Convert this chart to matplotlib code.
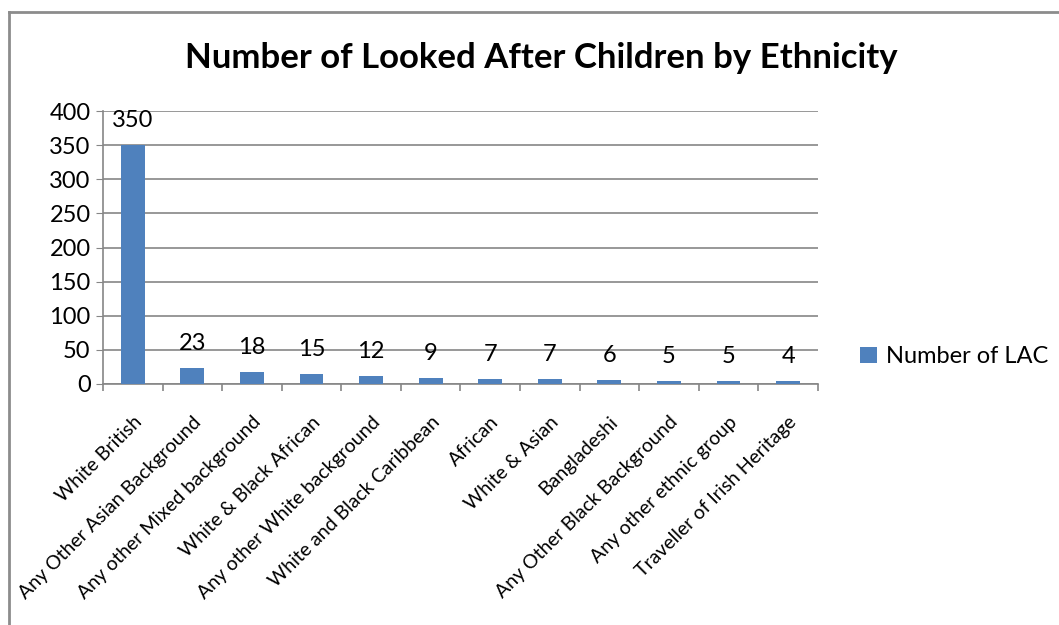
import numpy as np
import matplotlib
matplotlib.use('Agg')
import matplotlib.pyplot as plt
from matplotlib.lines import Line2D

plt.rcParams['font.family'] = ['Lato', 'DejaVu Sans']

categories = ['White British', 'Any Other Asian Background', 'Any other Mixed background',
              'White & Black African', 'Any other White background', 'White and Black Caribbean',
              'African', 'White & Asian', 'Bangladeshi', 'Any Other Black Background',
              'Any other ethnic group', 'Traveller of Irish Heritage']
counts = [350, 23, 18, 15, 12, 9, 7, 7, 6, 5, 5, 4]

bar_color = '#4F81BD'
grid_color = '#868686'

fig = plt.figure(figsize=(10.59, 6.25), dpi=100)
ax = fig.add_axes([0.0973, 0.3856, 0.675, 0.4368])

x = np.arange(len(categories))
bars = ax.bar(x, counts, 0.4, color=bar_color, label='Number of LAC', zorder=3)

ax.set_xlim(-0.5, len(categories) - 0.5)
ax.set_ylim(0, 400)
ax.set_yticks(np.arange(0, 401, 50))
ax.tick_params(axis='y', labelsize=17, length=5, color=grid_color, pad=4)
ax.yaxis.grid(True, color=grid_color, lw=1.2, zorder=0)

# tick marks between categories, labels at the centres
ax.set_xticks(np.arange(len(categories) + 1) - 0.5)
ax.set_xticklabels([])
ax.tick_params(axis='x', which='major', length=5, color=grid_color, width=1.2)
ax.set_xticks(x, minor=True)
ax.set_xticklabels(categories, minor=True, rotation=45, ha='right',
                   rotation_mode='anchor', fontsize=14)
ax.tick_params(axis='x', which='minor', length=0, pad=21)

for s in ['top', 'right']:
    ax.spines[s].set_visible(False)
for s in ['left', 'bottom']:
    ax.spines[s].set_color(grid_color)
    ax.spines[s].set_linewidth(1.2)

for rect, v in zip(bars, counts):
    ax.annotate('{}'.format(v),
                xy=(rect.get_x() + rect.get_width() / 2, rect.get_height()),
                xytext=(0, 10), textcoords='offset points',
                ha='center', va='bottom', fontsize=17)

fig.text(0.511, 0.907, 'Number of Looked After Children by Ethnicity',
         ha='center', va='center', fontsize=25, fontweight='bold')

ax.legend(loc='center left', bbox_to_anchor=(1.059, 0.099), frameon=False,
          fontsize=17, handlelength=0.7, handleheight=0.7, handletextpad=0.4,
          borderpad=0, borderaxespad=0)

# outer chart border (top and left visible)
fig.add_artist(Line2D([0.0085, 1.0], [0.981, 0.981], color='#8c8c8c', lw=2))
fig.add_artist(Line2D([0.0085, 0.0085], [0.0, 0.981], color='#8c8c8c', lw=2))

fig.savefig('out.png', dpi=100)
